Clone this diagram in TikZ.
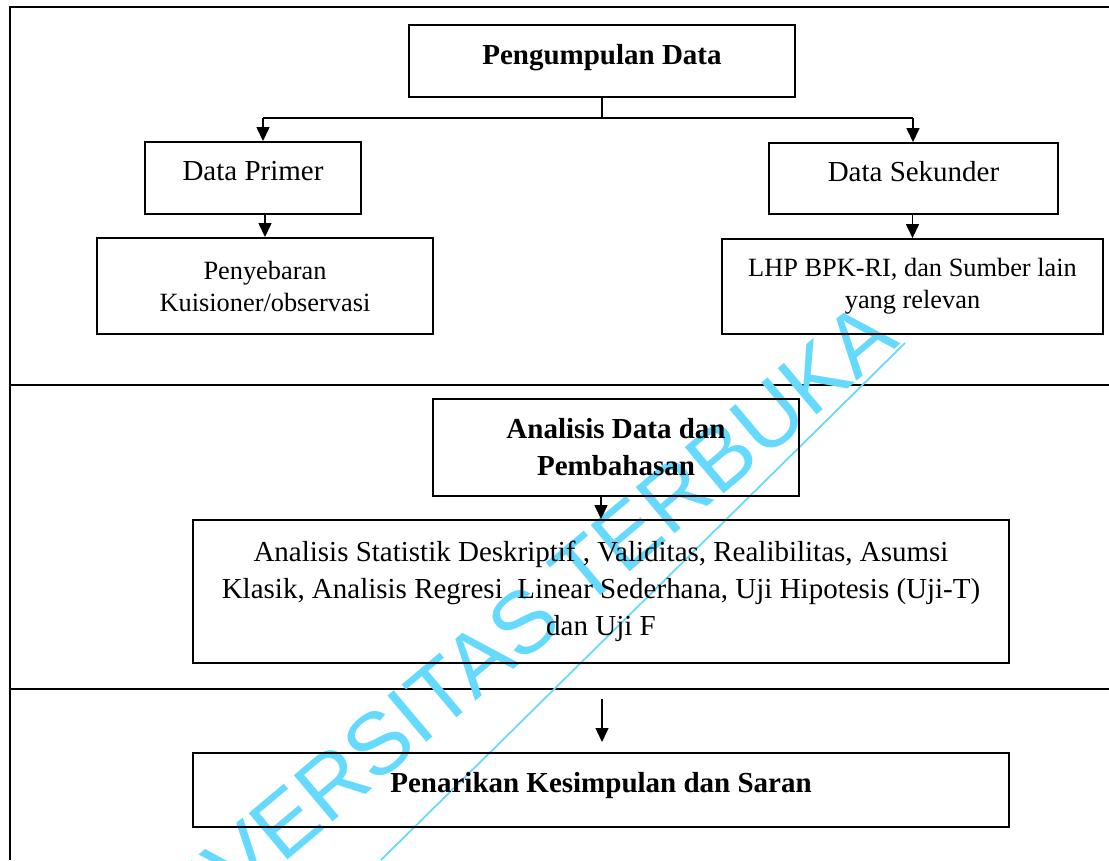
\documentclass[tikz,border=0pt]{standalone}
\usepackage{fontspec}
\setmainfont{Liberation Serif}
\newfontfamily\wmfont{Liberation Sans}
\usetikzlibrary{arrows.meta}
\definecolor{wmcyan}{RGB}{102,217,255}
\tikzset{
  box/.style={draw, line width=1.1pt, align=center, inner sep=0pt},
  frameline/.style={line width=1.6pt},
  conn/.style={line width=0.8pt},
  arr/.style={conn, -{Triangle[length=0.28cm,width=0.26cm]}},
  big/.style={font=\fontsize{16.5}{21}\selectfont},
  bigb/.style={font=\fontsize{16.5}{21}\selectfont\bfseries},
  small/.style={font=\fontsize{15}{18.2}\selectfont},
}
\begin{document}
\begin{tikzpicture}[x=0.02cm,y=-0.02cm]
\useasboundingbox (0,0) rectangle (1109,860);
% frame
\draw[frameline] (10,860) -- (10,7) -- (1109,7);
\draw[frameline] (10,385) -- (1109,385);
\draw[frameline] (10,689) -- (1109,689);
% watermark
\begin{scope}
\clip (0,0) rectangle (1109,860);
\node[wmcyan, font=\wmfont\fontsize{50}{50}\selectfont, anchor=base east, rotate=40, inner sep=0pt] (wm) at (902,344) {UNIVERSITAS TERBUKA};
\coordinate (wl1) at (381,860);
\coordinate (wl2) at (905,343);
\draw[wmcyan, line width=1pt] (wl1) -- (wl2);
\end{scope}
% boxes
\node[box, bigb, minimum width=7.72cm, minimum height=1.44cm] (pd) at (602,61) {\raisebox{0.28cm}{Pengumpulan Data}};
\node[box, big, minimum width=4.32cm, minimum height=1.44cm] (dp) at (253,178) {\raisebox{0.28cm}{Data Primer}};
\node[box, big, minimum width=5.78cm, minimum height=1.42cm] (ds) at (913.5,178.5) {\raisebox{0.28cm}{Data Sekunder}};
\node[box, small, minimum width=6.72cm, minimum height=1.92cm] (pk) at (265,286) {Penyebaran\\Kuisioner/observasi};
\node[box, small, minimum width=7.62cm, minimum height=1.90cm] (lhp) at (912.5,286.5) {LHP BPK-RI, dan Sumber lain\\yang relevan};
\node[box, bigb, minimum width=7.32cm, minimum height=1.94cm] (ad) at (616,447.5) {Analisis Data dan\\Pembahasan};
\node[box, big, minimum width=16.32cm, minimum height=2.86cm] (as) at (601,591.5) {Analisis Statistik Deskriptif , Validitas, Realibilitas, Asumsi\\Klasik, Analisis Regresi\ \ Linear Sederhana, Uji Hipotesis (Uji-T)\\dan Uji F};
\node[box, bigb, minimum width=16.32cm, minimum height=1.48cm] (pks) at (601,790) {\raisebox{0.3cm}{Penarikan Kesimpulan dan Saran}};
% connectors
\coordinate (j) at (602,118);
\coordinate (jl) at (263,118);
\coordinate (jr) at (913,118);
\draw[conn] (pd.south) -- (j);
\draw[conn] (jl) -- (jr);
\draw[arr] (jl) -- (jl |- dp.north);
\draw[arr] (jr) -- (jr |- ds.north);
\draw[arr] (pk.north |- dp.south) -- (pk.north);
\draw[arr] (lhp.north |- ds.south) -- (lhp.north);
\draw[arr] (as.north |- ad.south) -- (as.north);
\coordinate (a1) at (602,699);
\coordinate (a2) at (602,742);
\draw[arr] (a1) -- (a2);
\end{tikzpicture}
\end{document}
